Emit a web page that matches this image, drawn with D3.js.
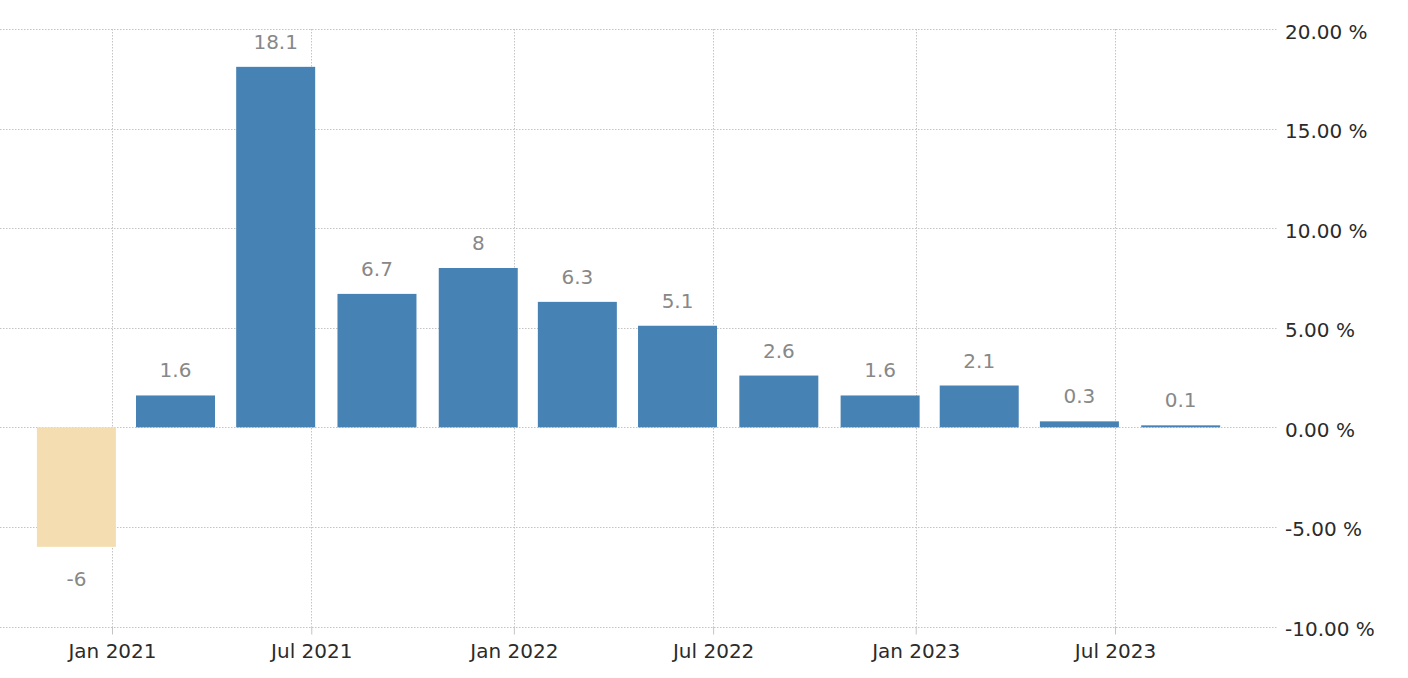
<!DOCTYPE html>
<html>
<head>
<meta charset="utf-8">
<script src="https://cdn.jsdelivr.net/npm/d3@7"></script>
<style>
  html, body { margin: 0; padding: 0; background: #fff; }
  svg { display: block; }
  text { font-family: "DejaVu Sans", sans-serif; }
</style>
</head>
<body>
<svg id="chart" width="1408" height="678"></svg>
<script>
// ---- data ----
const quarters = ["2020-12-31", "2021-03-31", "2021-06-30", "2021-09-30", "2021-12-31", "2022-03-31",
                  "2022-06-30", "2022-09-30", "2022-12-31", "2023-03-31", "2023-06-30", "2023-09-30"];
const values = [-6, 1.6, 18.1, 6.7, 8, 6.3, 5.1, 2.6, 1.6, 2.1, 0.3, 0.1];
const xTickDates = ["2021-01-01", "2021-07-01", "2022-01-01", "2022-07-01", "2023-01-01", "2023-07-01"];
const xTickLabels = ["Jan 2021", "Jul 2021", "Jan 2022", "Jul 2022", "Jan 2023", "Jul 2023"];
const yTicks = [20, 15, 10, 5, 0, -5, -10];

// ---- layout ----
const W = 1408, H = 678;
const parse = d3.utcParse("%Y-%m-%d");
const x = d3.scaleUtc()
  .domain([parse(xTickDates[0]), parse(xTickDates[xTickDates.length - 1])])
  .range([112, 1115]);
const y = d3.scaleLinear().domain([-10, 20]).range([626.5, 29]);
const gridRight = 1278;
const barW = 79;
const barShift = 34.5; // bar centre sits left of its quarter-end date
const hyphen = s => s.replace(/\u2212/g, "-");

const svg = d3.select("#chart");
svg.append("rect").attr("width", W).attr("height", H).attr("fill", "#fff");

const gridColor = "#c4c4c4";

// horizontal grid
svg.append("g").selectAll("line").data(yTicks).join("line")
  .attr("x1", 0).attr("x2", gridRight)
  .attr("y1", d => Math.round(y(d)) + 0.5).attr("y2", d => Math.round(y(d)) + 0.5)
  .attr("stroke", gridColor).attr("stroke-width", 1).attr("stroke-dasharray", "1.5,1.5");

// vertical grid
const tickDates = xTickDates.map(parse);
svg.append("g").selectAll("line").data(tickDates).join("line")
  .attr("x1", d => Math.round(x(d)) + 0.5).attr("x2", d => Math.round(x(d)) + 0.5)
  .attr("y1", y(20)).attr("y2", y(-10))
  .attr("stroke", gridColor).attr("stroke-width", 1).attr("stroke-dasharray", "1.5,1.5");

// bars
const data = quarters.map((q, i) => ({ date: parse(q), value: values[i] }));
svg.append("g").selectAll("rect").data(data).join("rect")
  .attr("x", d => x(d.date) - barShift - barW / 2)
  .attr("width", barW)
  .attr("y", d => y(Math.max(0, d.value)))
  .attr("height", d => Math.max(1, Math.abs(y(d.value) - y(0))))
  .attr("fill", d => d.value < 0 ? "#F4DEB1" : "#4682B4");

// value labels
svg.append("g").selectAll("text").data(data).join("text")
  .attr("x", d => x(d.date) - barShift)
  .attr("y", d => d.value >= 0 ? y(d.value) - 18 : y(d.value) + 39)
  .attr("text-anchor", "middle")
  .attr("font-size", 20)
  .attr("fill", "#888")
  .text(d => hyphen(d3.format("")(d.value)));

// x axis (bottom)
const xAxis = d3.axisBottom(x)
  .tickValues(tickDates)
  .tickFormat((d, i) => xTickLabels[i])
  .tickSize(8).tickSizeOuter(0).tickPadding(9);
const gx = svg.append("g").attr("transform", `translate(0,${y(-10)})`).call(xAxis);
gx.select(".domain").remove();
gx.selectAll(".tick line").attr("stroke", gridColor);
gx.selectAll(".tick text").attr("font-size", 20).attr("fill", "#2b2b2b")
  .attr("font-family", "DejaVu Sans, sans-serif");

// y axis (right)
const yAxis = d3.axisRight(y)
  .tickValues(yTicks)
  .tickFormat(d => hyphen(d3.format(".2f")(d)) + " %")
  .tickSize(0).tickPadding(7);
const gy = svg.append("g").attr("transform", `translate(${gridRight},0)`).call(yAxis);
gy.select(".domain").remove();
gy.selectAll(".tick text").attr("font-size", 20).attr("fill", "#2b2b2b")
  .attr("dy", "0.45em")
  .attr("font-family", "DejaVu Sans, sans-serif");
</script>
</body>
</html>
